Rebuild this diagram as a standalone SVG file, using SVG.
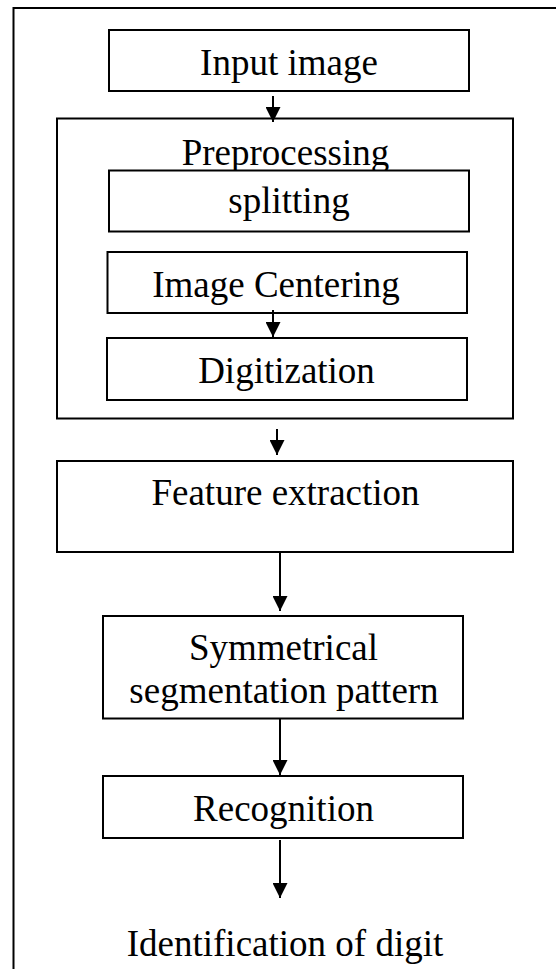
<svg xmlns="http://www.w3.org/2000/svg" width="556" height="969" viewBox="0 0 556 969">
<style>
.box{fill:#fff;stroke:#000;stroke-width:2}
.frame{fill:none;stroke:#000;stroke-width:2}
.lbl{font-family:'Liberation Serif','DejaVu Serif',serif;font-size:37px;fill:#000;text-anchor:middle}
.conn{stroke:#000;stroke-width:2;fill:none}
</style>
<defs>
<marker id="ah" markerUnits="userSpaceOnUse" markerWidth="15" markerHeight="15" refX="15" refY="7.5" orient="auto" viewBox="0 0 15 15">
<path d="M0,0 L15,7.5 L0,15 z" fill="#000"/>
</marker>
</defs>
<rect width="556" height="969" fill="#fff"/>
<path class="frame" d="M13.5,969 V8 H556"/>
<g id="input-image">
<rect class="box" x="109" y="30" width="360" height="61"/>
<text class="lbl" x="289" y="75">Input image</text>
</g>
<g id="preprocessing">
<rect class="box" x="57" y="118.5" width="456" height="300"/>
<text class="lbl" x="285.5" y="165">Preprocessing</text>
</g>
<g id="splitting">
<rect class="box" x="109" y="170.5" width="360" height="61"/>
<text class="lbl" x="289" y="213">splitting</text>
</g>
<g id="image-centering">
<rect class="box" x="107.5" y="252" width="359.5" height="61"/>
<text class="lbl" x="276" y="297">Image Centering</text>
</g>
<g id="digitization">
<rect class="box" x="107" y="338" width="360" height="62"/>
<text class="lbl" x="286.5" y="383">Digitization</text>
</g>
<g id="feature-extraction">
<rect class="box" x="57" y="461" width="456" height="91"/>
<text class="lbl" x="285.5" y="505">Feature extraction</text>
</g>
<g id="symmetrical">
<rect class="box" x="103" y="616" width="360" height="102.5"/>
<text class="lbl" x="283.5" y="660">Symmetrical</text>
<text class="lbl" x="284" y="703">segmentation pattern</text>
</g>
<g id="recognition">
<rect class="box" x="103" y="776" width="360" height="62"/>
<text class="lbl" x="283.5" y="821">Recognition</text>
</g>
<g id="identification">
<text class="lbl" x="285" y="956">Identification of digit</text>
</g>
<g id="connectors">
<line class="conn" x1="273" y1="96" x2="273" y2="122" marker-end="url(#ah)"/>
<line class="conn" x1="273" y1="310" x2="273" y2="337" marker-end="url(#ah)"/>
<line class="conn" x1="277" y1="429" x2="277" y2="455" marker-end="url(#ah)"/>
<line class="conn" x1="280" y1="552" x2="280" y2="611" marker-end="url(#ah)"/>
<line class="conn" x1="280" y1="719" x2="280" y2="775" marker-end="url(#ah)"/>
<line class="conn" x1="280" y1="840" x2="280" y2="898" marker-end="url(#ah)"/>
</g>
</svg>
